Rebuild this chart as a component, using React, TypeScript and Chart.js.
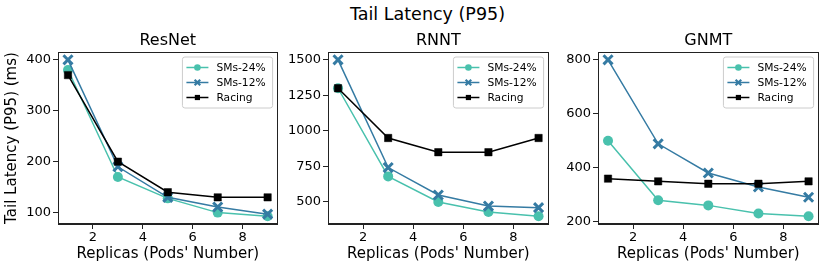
import React, { useEffect, useRef } from 'react';
import { Chart, registerables } from 'chart.js';

Chart.register(...registerables);

// ---- data ----
const replicas = [1, 3, 5, 7, 9];
const seriesLabels = ['SMs-24%', 'SMs-12%', 'Racing'];

const resnetSM24 = [380, 170, 128, 100, 93];
const resnetSM12 = [400, 190, 130, 111, 97];
const resnetRacing = [370, 200, 140, 130, 130];

const rnntSM24 = [1300, 680, 500, 430, 400];
const rnntSM12 = [1500, 742, 549, 471, 460];
const rnntRacing = [1300, 950, 850, 850, 950];

const gnmtSM24 = [500, 280, 261, 231, 221];
const gnmtSM12 = [800, 489, 381, 329, 291];
const gnmtRacing = [360, 350, 341, 341, 350];

const xTicks = [2, 4, 6, 8];
const resnetYTicks = [100, 200, 300, 400];
const rnntYTicks = [500, 750, 1000, 1250, 1500];
const gnmtYTicks = [200, 400, 600, 800];

const FONT = 'DejaVu Sans';
const C24 = '#49c1ad';
const C12 = '#357ba3';
const CR = '#000000';
const AXIS = '#222222';

type PanelDef = {
  title: string;
  sm24: number[];
  sm12: number[];
  racing: number[];
  yTicks: number[];
  yTitle?: string;
  left: number;
  width: number;
  axisW: number;
};

const panels: PanelDef[] = [
  { title: 'ResNet', sm24: resnetSM24, sm12: resnetSM12, racing: resnetRacing, yTicks: resnetYTicks, yTitle: 'Tail Latency (P95) (ms)', left: 0, width: 287, axisW: 58 },
  { title: 'RNNT', sm24: rnntSM24, sm12: rnntSM12, racing: rnntRacing, yTicks: rnntYTicks, left: 280, width: 278, axisW: 48 },
  { title: 'GNMT', sm24: gnmtSM24, sm12: gnmtSM12, racing: gnmtRacing, yTicks: gnmtYTicks, left: 550, width: 278, axisW: 48 },
];

function drawMarker(ctx: CanvasRenderingContext2D, kind: string, x: number, y: number, color: string, small: boolean) {
  ctx.save();
  ctx.fillStyle = color;
  ctx.strokeStyle = color;
  if (kind === 'circle') {
    ctx.beginPath();
    ctx.arc(x, y, small ? 3.3 : 5, 0, Math.PI * 2);
    ctx.fill();
  } else if (kind === 'crossRot') {
    const r = small ? 2.8 : 4.5;
    ctx.lineWidth = small ? 2.2 : 3;
    ctx.beginPath();
    ctx.moveTo(x - r, y - r); ctx.lineTo(x + r, y + r);
    ctx.moveTo(x - r, y + r); ctx.lineTo(x + r, y - r);
    ctx.stroke();
  } else {
    const s = small ? 2.6 : 4;
    ctx.fillRect(x - s, y - s, 2 * s, 2 * s);
  }
  ctx.restore();
}

const framePlugin = {
  id: 'frameAndLegend',
  afterDraw(chart: any) {
    const { ctx, chartArea: ca } = chart;
    ctx.save();
    // axes frame
    ctx.strokeStyle = AXIS;
    ctx.lineWidth = 1;
    const l = Math.round(ca.left) + 0.5;
    const t = Math.round(ca.top) + 0.5;
    const r = Math.round(ca.right) - 0.5;
    const b = Math.round(ca.bottom) - 0.5;
    ctx.strokeRect(l, t, r - l, b - t);

    // legend box
    ctx.font = `10.7px "${FONT}"`;
    const ds = chart.data.datasets;
    const textW = Math.max(...ds.map((d: any) => ctx.measureText(d.label).width));
    const w = 34 + textW + 7;
    const h = 51;
    const x0 = ca.right - 5 - w;
    const y0 = ca.top + 5;
    const rad = 2.5;
    ctx.beginPath();
    ctx.moveTo(x0 + rad, y0);
    ctx.lineTo(x0 + w - rad, y0);
    ctx.arcTo(x0 + w, y0, x0 + w, y0 + rad, rad);
    ctx.lineTo(x0 + w, y0 + h - rad);
    ctx.arcTo(x0 + w, y0 + h, x0 + w - rad, y0 + h, rad);
    ctx.lineTo(x0 + rad, y0 + h);
    ctx.arcTo(x0, y0 + h, x0, y0 + h - rad, rad);
    ctx.lineTo(x0, y0 + rad);
    ctx.arcTo(x0, y0, x0 + rad, y0, rad);
    ctx.closePath();
    ctx.fillStyle = 'rgba(255,255,255,0.8)';
    ctx.fill();
    ctx.strokeStyle = '#cccccc';
    ctx.lineWidth = 1;
    ctx.stroke();

    ds.forEach((d: any, i: number) => {
      const yy = y0 + 10.5 + i * 15;
      ctx.strokeStyle = d.borderColor;
      ctx.lineWidth = 1.5;
      ctx.beginPath();
      ctx.moveTo(x0 + 4, yy);
      ctx.lineTo(x0 + 26, yy);
      ctx.stroke();
      drawMarker(ctx, d.pointStyle, x0 + 15, yy, d.borderColor, true);
      ctx.fillStyle = '#000';
      ctx.textBaseline = 'middle';
      ctx.textAlign = 'left';
      ctx.fillText(d.label, x0 + 34, yy + 0.5);
    });
    ctx.restore();
  },
};

function mkDataset(label: string, values: number[], color: string, style: string, radius: number, bw: number, order: number) {
  return {
    label,
    data: replicas.map((x, i) => ({ x, y: values[i] })),
    borderColor: color,
    backgroundColor: color,
    borderWidth: 1.5,
    pointStyle: style,
    pointRadius: radius,
    pointBorderWidth: bw,
    pointBackgroundColor: color,
    pointBorderColor: color,
    tension: 0,
    order,
  };
}

function PanelChart({ p }: { p: PanelDef }) {
  const ref = useRef<HTMLCanvasElement>(null);
  useEffect(() => {
    const all = [...p.sm24, ...p.sm12, ...p.racing];
    const lo = Math.min(...all);
    const hi = Math.max(...all);
    const m = (hi - lo) * 0.05;
    const xm = (replicas[replicas.length - 1] - replicas[0]) * 0.05;
    const chart = new Chart(ref.current as HTMLCanvasElement, {
      type: 'line',
      data: {
        datasets: [
          mkDataset(seriesLabels[0], p.sm24, C24, 'circle', 5, 0, 3),
          mkDataset(seriesLabels[1], p.sm12, C12, 'crossRot', 6.4, 3, 2),
          mkDataset(seriesLabels[2], p.racing, CR, 'rect', 5.2, 0.5, 1),
        ] as any,
      },
      options: {
        responsive: false,
        animation: false,
        devicePixelRatio: 1,
        layout: { padding: { left: 0, right: 4, top: 31.6, bottom: 7.2 } },
        plugins: {
          legend: { display: false },
          tooltip: { enabled: false },
          title: {
            display: true,
            text: p.title,
            fullSize: false,
            color: '#000',
            font: { family: FONT, size: 16, weight: 'normal' },
            padding: { top: 0, bottom: 1.2 },
          },
        },
        scales: {
          x: {
            type: 'linear',
            min: replicas[0] - xm,
            max: replicas[replicas.length - 1] + xm,
            afterBuildTicks: (s: any) => { s.ticks = xTicks.map((v) => ({ value: v })); },
            afterFit: (s: any) => { s.height = 38.8; },
            ticks: { color: '#000', font: { family: FONT, size: 13 }, padding: 1, callback: (v: any) => String(v) },
            grid: { drawOnChartArea: false, drawTicks: true, tickLength: 5, color: AXIS },
            border: { display: true, color: AXIS, width: 1 },
            title: { display: true, text: "Replicas (Pods' Number)", color: '#000', font: { family: FONT, size: 15 }, padding: { top: 0, bottom: 0 } },
          },
          y: {
            type: 'linear',
            min: lo - m,
            max: hi + m,
            afterBuildTicks: (s: any) => { s.ticks = p.yTicks.map((v) => ({ value: v })); },
            afterFit: (s: any) => { s.width = p.axisW; },
            ticks: { color: '#000', font: { family: FONT, size: 13 }, padding: 2, callback: (v: any) => String(v) },
            grid: { drawOnChartArea: false, drawTicks: true, tickLength: 5, color: AXIS },
            border: { display: true, color: AXIS, width: 1 },
            title: { display: !!p.yTitle, text: p.yTitle || '', color: '#000', font: { family: FONT, size: 15 }, padding: { top: 3.6, bottom: 0 } },
          },
        },
      } as any,
      plugins: [framePlugin],
    });
    return () => chart.destroy();
  }, [p]);
  return (
    <canvas
      ref={ref}
      width={p.width}
      height={270}
      style={{ position: 'absolute', left: p.left, top: 0, width: p.width, height: 270 }}
    />
  );
}

export default function App() {
  return (
    <div style={{ position: 'absolute', left: 0, top: 0, width: 831, height: 270, overflow: 'hidden', background: '#fff' }}>
      <div
        style={{
          position: 'absolute',
          left: 0,
          top: 4,
          width: 855,
          textAlign: 'center',
          fontFamily: FONT,
          fontSize: 17.5,
          lineHeight: '20px',
          color: '#000',
          whiteSpace: 'nowrap',
        }}
      >
        Tail Latency (P95)
      </div>
      {panels.map((p) => (
        <PanelChart key={p.title} p={p} />
      ))}
    </div>
  );
}
